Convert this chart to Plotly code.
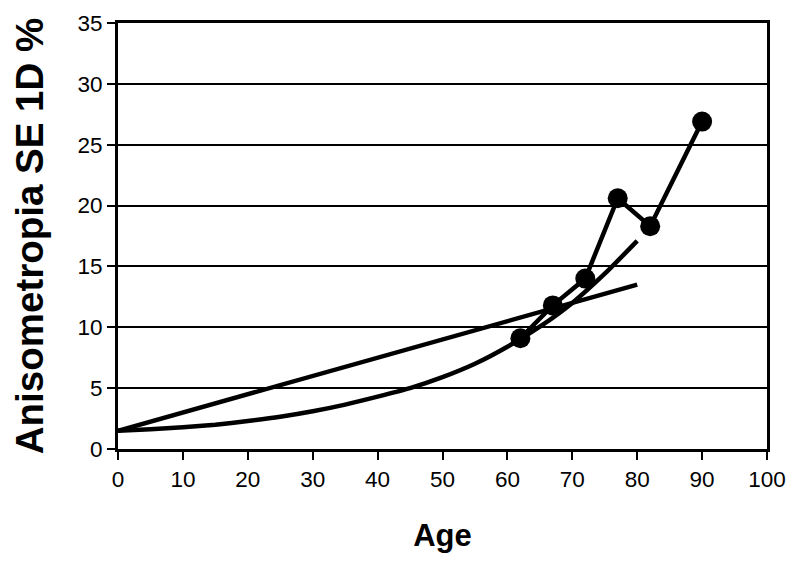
import plotly.graph_objects as go

# Observed data
ages = [62, 67, 72, 77, 82, 90]
aniso = [9.1, 11.8, 14.0, 20.6, 18.3, 26.9]

# Linear trend line
lin_x = [0, 80]
lin_y = [1.5, 13.5]

# Curved trend line
curve_x = [0, 5, 10, 15, 20, 25, 30, 35, 40, 45, 50, 55, 60, 65, 70, 75, 80]
curve_y = [1.5, 1.62, 1.78, 2.0, 2.3, 2.65, 3.1, 3.65, 4.3, 5.0, 5.9, 7.0, 8.4, 10.05, 12.0, 14.4, 17.1]

x_ticks = [0, 10, 20, 30, 40, 50, 60, 70, 80, 90, 100]
y_ticks = [0, 5, 10, 15, 20, 25, 30, 35]

FONT = "Liberation Sans, Arial, sans-serif"

fig = go.Figure()
fig.add_trace(go.Scatter(x=lin_x, y=lin_y, mode="lines",
                         line=dict(color="black", width=4.5), showlegend=False))
fig.add_trace(go.Scatter(x=curve_x, y=curve_y, mode="lines",
                         line=dict(color="black", width=4.5, shape="spline", smoothing=0.6),
                         showlegend=False))
fig.add_trace(go.Scatter(x=ages, y=aniso, mode="lines+markers",
                         line=dict(color="black", width=4.5),
                         marker=dict(color="black", size=20, line=dict(width=0)),
                         showlegend=False))

fig.update_layout(
    width=800, height=569,
    margin=dict(l=110, r=41, t=15, b=128),
    paper_bgcolor="white", plot_bgcolor="white",
    font=dict(family=FONT, color="black", size=22),
    xaxis=dict(range=[0, 100], tickvals=x_ticks, ticks="outside", ticklen=8,
               tickwidth=2, tickcolor="black", showgrid=False, zeroline=False,
               showline=True, linecolor="black", linewidth=3, mirror=True,
               automargin=False,
               tickfont=dict(size=22.5, family=FONT),
               title=dict(text="<b>Age</b>", font=dict(size=31, family=FONT), standoff=34)),
    yaxis=dict(range=[0, 35], tickvals=y_ticks, ticks="outside", ticklen=8,
               tickwidth=2, tickcolor="black", showgrid=True, gridcolor="black",
               gridwidth=2, zeroline=False, showline=True, linecolor="black",
               linewidth=3, mirror=True, automargin=False,
               tickfont=dict(size=22.5, family=FONT),
               title=dict(text="<b>Anisometropia SE 1D %</b>",
                          font=dict(size=38.5, family=FONT), standoff=22)),
)

fig.write_html("out.html")
